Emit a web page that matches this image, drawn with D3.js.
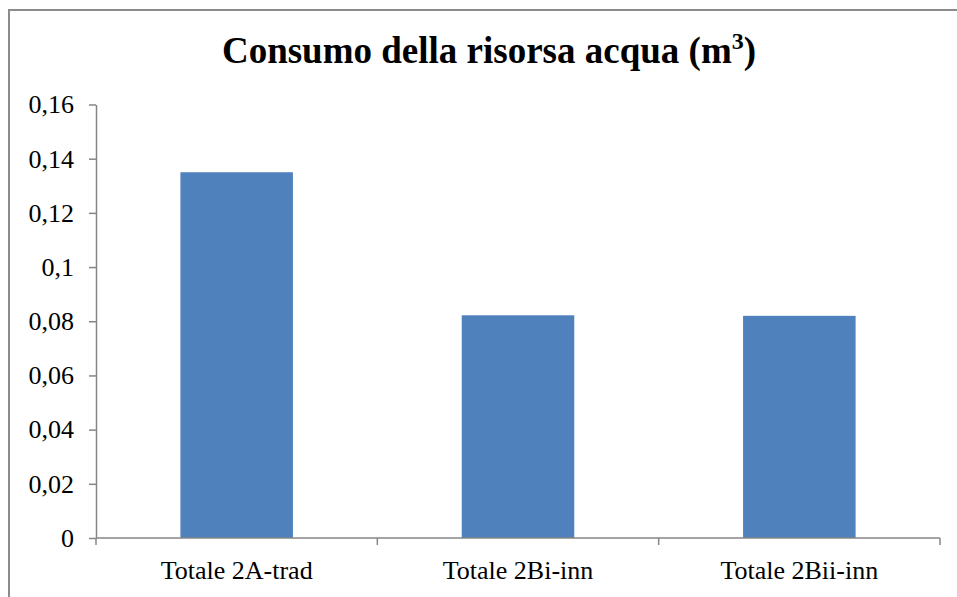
<!DOCTYPE html>
<html>
<head>
<meta charset="utf-8">
<script src="https://cdn.jsdelivr.net/npm/d3@7"></script>
<style>
  html, body { margin: 0; padding: 0; background: #fff; }
  svg { display: block; }
</style>
</head>
<body>
<svg id="chart" width="957" height="597"></svg>
<script>
// Water resource consumption per scenario (m³)
const categories = ["Totale 2A-trad", "Totale 2Bi-inn", "Totale 2Bii-inn"];
const values = [0.135, 0.0822, 0.0820];
const yTicks = [0, 0.02, 0.04, 0.06, 0.08, 0.1, 0.12, 0.14, 0.16];
const yTickLabels = ["0", "0,02", "0,04", "0,06", "0,08", "0,1", "0,12", "0,14", "0,16"];
const title = "Consumo della risorsa acqua (m";
const titleSup = "3";

const W = 957, H = 597;
const margin = { left: 96, right: 17, top: 104.5, bottom: 59 };
const axisColor = "#868686";
const barColor = "#4F81BD";
const serif = "Liberation Serif";

const svg = d3.select("#chart").attr("font-family", serif);

// chart area frame (top and left edges visible)
svg.append("path")
  .attr("d", `M9,${H} L9,10 L${W},10`)
  .attr("fill", "none")
  .attr("stroke", "#8c8c8c")
  .attr("stroke-width", 2);

const x = d3.scaleBand()
  .domain(categories)
  .range([margin.left, W - margin.right])
  .paddingInner(0.6)
  .paddingOuter(0.3);

const y = d3.scaleLinear()
  .domain([0, 0.16])
  .range([H - margin.bottom, margin.top]);

// bars
svg.append("g")
  .selectAll("rect")
  .data(values)
  .join("rect")
  .attr("x", (d, i) => x(categories[i]))
  .attr("y", d => y(d))
  .attr("width", x.bandwidth())
  .attr("height", d => y(0) - y(d))
  .attr("fill", barColor);

// y axis
const yAxis = d3.axisLeft(y)
  .tickValues(yTicks)
  .tickFormat((d, i) => yTickLabels[i])
  .tickSize(7)
  .tickSizeOuter(0)
  .tickPadding(15);

const gy = svg.append("g")
  .attr("transform", `translate(${margin.left},0)`)
  .call(yAxis)
  .attr("font-family", serif)
  .attr("font-size", 26);
gy.select(".domain").attr("stroke", axisColor).attr("stroke-width", 1.5);
gy.selectAll(".tick line").attr("stroke", axisColor).attr("stroke-width", 1.5);
gy.selectAll(".tick text").attr("fill", "#000");

// x axis with boundary ticks between categories
const xEdges = d3.range(categories.length + 1).map(i => margin.left + i * (W - margin.right - margin.left) / categories.length);
const gx = svg.append("g");
gx.append("line")
  .attr("x1", margin.left).attr("x2", W - margin.right)
  .attr("y1", y(0)).attr("y2", y(0))
  .attr("stroke", axisColor).attr("stroke-width", 1.5);
gx.selectAll("line.edge")
  .data(xEdges)
  .join("line")
  .attr("class", "edge")
  .attr("x1", d => d).attr("x2", d => d)
  .attr("y1", y(0)).attr("y2", y(0) + 7)
  .attr("stroke", axisColor).attr("stroke-width", 1.5);
gx.selectAll("text")
  .data(categories)
  .join("text")
  .attr("x", d => x(d) + x.bandwidth() / 2)
  .attr("y", 579)
  .attr("text-anchor", "middle")
  .attr("font-family", serif)
  .attr("font-size", 26)
  .attr("fill", "#000")
  .text(d => d);

// title
const t = svg.append("text")
  .attr("x", 489)
  .attr("y", 63)
  .attr("text-anchor", "middle")
  .attr("font-family", serif)
  .attr("font-size", 37)
  .attr("font-weight", "bold")
  .attr("fill", "#000");
t.append("tspan").text(title);
t.append("tspan").attr("dy", -14).attr("font-size", 24).text(titleSup);
t.append("tspan").attr("dy", 14).text(")");
</script>
</body>
</html>
